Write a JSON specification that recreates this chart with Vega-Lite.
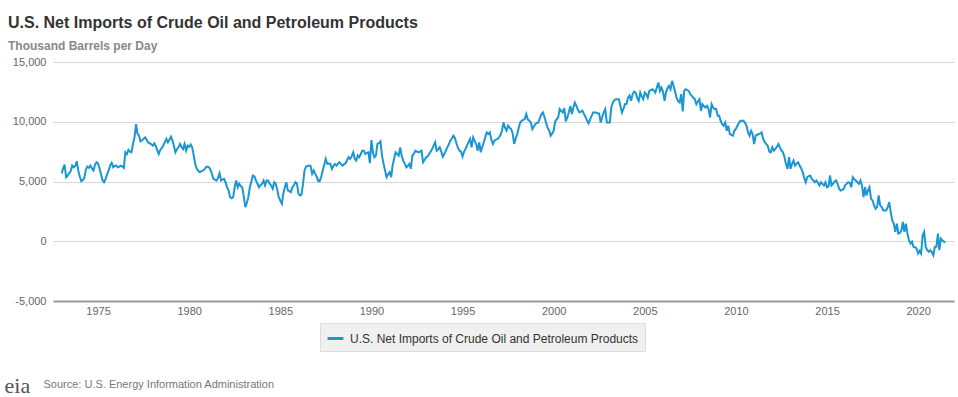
{
"$schema": "https://vega.github.io/schema/vega-lite/v6.json",
"autosize": {"type": "none"},
"padding": {"left": 53, "top": 62, "right": 4, "bottom": 96},
"width": 901,
"height": 239,
"background": "white",
"title": {"text": "U.S. Net Imports of Crude Oil and Petroleum Products", "subtitle": "Thousand Barrels per Day", "anchor": "start", "frame": "group", "dx": -45, "offset": 4, "font": "Liberation Sans", "fontSize": 16, "fontWeight": "bold", "color": "#333333", "subtitleFont": "Liberation Sans", "subtitleFontSize": 12, "subtitleFontWeight": "bold", "subtitleColor": "#888888", "subtitlePadding": 10},
"config": {"view": {"stroke": null}},
"datasets": {"oil": [
{"d":"1973-01","v":5690},{"d":"1973-02","v":6100},{"d":"1973-03","v":6420},{"d":"1973-04","v":5360},{"d":"1973-05","v":5500},{"d":"1973-06","v":5700},{"d":"1973-07","v":5850},{"d":"1973-08","v":6330},{"d":"1973-09","v":6190},{"d":"1973-10","v":6300},{"d":"1973-11","v":6700},{"d":"1973-12","v":5900},
{"d":"1974-01","v":5400},{"d":"1974-02","v":5030},{"d":"1974-03","v":5100},{"d":"1974-04","v":5300},{"d":"1974-05","v":6000},{"d":"1974-06","v":6250},{"d":"1974-07","v":6140},{"d":"1974-08","v":6330},{"d":"1974-09","v":6100},{"d":"1974-10","v":5920},{"d":"1974-11","v":6400},{"d":"1974-12","v":6610},
{"d":"1975-01","v":6500},{"d":"1975-02","v":6060},{"d":"1975-03","v":5600},{"d":"1975-04","v":5100},{"d":"1975-05","v":4940},{"d":"1975-06","v":5220},{"d":"1975-07","v":5600},{"d":"1975-08","v":5920},{"d":"1975-09","v":6350},{"d":"1975-10","v":6560},{"d":"1975-11","v":6190},{"d":"1975-12","v":6300},
{"d":"1976-01","v":6330},{"d":"1976-02","v":6190},{"d":"1976-03","v":6250},{"d":"1976-04","v":6330},{"d":"1976-05","v":6250},{"d":"1976-06","v":6140},{"d":"1976-07","v":7440},{"d":"1976-08","v":7300},{"d":"1976-09","v":7640},{"d":"1976-10","v":7500},{"d":"1976-11","v":7440},{"d":"1976-12","v":8140},
{"d":"1977-01","v":8700},{"d":"1977-02","v":9800},{"d":"1977-03","v":9000},{"d":"1977-04","v":8830},{"d":"1977-05","v":8360},{"d":"1977-06","v":8450},{"d":"1977-07","v":8560},{"d":"1977-08","v":8690},{"d":"1977-09","v":8500},{"d":"1977-10","v":8280},{"d":"1977-11","v":8200},{"d":"1977-12","v":8140},
{"d":"1978-01","v":8000},{"d":"1978-02","v":8190},{"d":"1978-03","v":8000},{"d":"1978-04","v":7600},{"d":"1978-05","v":7300},{"d":"1978-06","v":7650},{"d":"1978-07","v":7800},{"d":"1978-08","v":8000},{"d":"1978-09","v":8300},{"d":"1978-10","v":8560},{"d":"1978-11","v":8280},{"d":"1978-12","v":8500},
{"d":"1979-01","v":8750},{"d":"1979-02","v":8420},{"d":"1979-03","v":8000},{"d":"1979-04","v":7440},{"d":"1979-05","v":7700},{"d":"1979-06","v":7860},{"d":"1979-07","v":8140},{"d":"1979-08","v":7900},{"d":"1979-09","v":7720},{"d":"1979-10","v":8140},{"d":"1979-11","v":7580},{"d":"1979-12","v":8000},
{"d":"1980-01","v":7900},{"d":"1980-02","v":8100},{"d":"1980-03","v":7860},{"d":"1980-04","v":7200},{"d":"1980-05","v":6470},{"d":"1980-06","v":6060},{"d":"1980-07","v":5900},{"d":"1980-08","v":5780},{"d":"1980-09","v":5850},{"d":"1980-10","v":5920},{"d":"1980-11","v":6000},{"d":"1980-12","v":6190},
{"d":"1981-01","v":6250},{"d":"1981-02","v":6190},{"d":"1981-03","v":6000},{"d":"1981-04","v":5640},{"d":"1981-05","v":5220},{"d":"1981-06","v":5150},{"d":"1981-07","v":5080},{"d":"1981-08","v":5300},{"d":"1981-09","v":5690},{"d":"1981-10","v":5080},{"d":"1981-11","v":5150},{"d":"1981-12","v":5220},
{"d":"1982-01","v":4900},{"d":"1982-02","v":4500},{"d":"1982-03","v":4250},{"d":"1982-04","v":3690},{"d":"1982-05","v":3600},{"d":"1982-06","v":3690},{"d":"1982-07","v":4520},{"d":"1982-08","v":5080},{"d":"1982-09","v":4520},{"d":"1982-10","v":4810},{"d":"1982-11","v":4600},{"d":"1982-12","v":4520},
{"d":"1983-01","v":3690},{"d":"1983-02","v":2860},{"d":"1983-03","v":3200},{"d":"1983-04","v":3690},{"d":"1983-05","v":4520},{"d":"1983-06","v":5000},{"d":"1983-07","v":5500},{"d":"1983-08","v":5420},{"d":"1983-09","v":5100},{"d":"1983-10","v":4810},{"d":"1983-11","v":4520},{"d":"1983-12","v":4700},
{"d":"1984-01","v":4810},{"d":"1984-02","v":5080},{"d":"1984-03","v":4670},{"d":"1984-04","v":5080},{"d":"1984-05","v":5080},{"d":"1984-06","v":4810},{"d":"1984-07","v":4670},{"d":"1984-08","v":4390},{"d":"1984-09","v":4940},{"d":"1984-10","v":4810},{"d":"1984-11","v":4300},{"d":"1984-12","v":3690},
{"d":"1985-01","v":3400},{"d":"1985-02","v":3140},{"d":"1985-03","v":3970},{"d":"1985-04","v":4500},{"d":"1985-05","v":4940},{"d":"1985-06","v":4250},{"d":"1985-07","v":4200},{"d":"1985-08","v":4110},{"d":"1985-09","v":4520},{"d":"1985-10","v":4700},{"d":"1985-11","v":4940},{"d":"1985-12","v":4810},
{"d":"1986-01","v":3970},{"d":"1986-02","v":3830},{"d":"1986-03","v":3900},{"d":"1986-04","v":4800},{"d":"1986-05","v":5920},{"d":"1986-06","v":6250},{"d":"1986-07","v":6300},{"d":"1986-08","v":6330},{"d":"1986-09","v":6300},{"d":"1986-10","v":5640},{"d":"1986-11","v":5920},{"d":"1986-12","v":5640},
{"d":"1987-01","v":5400},{"d":"1987-02","v":5030},{"d":"1987-03","v":5030},{"d":"1987-04","v":5400},{"d":"1987-05","v":5920},{"d":"1987-06","v":6400},{"d":"1987-07","v":6890},{"d":"1987-08","v":6470},{"d":"1987-09","v":6500},{"d":"1987-10","v":6470},{"d":"1987-11","v":6060},{"d":"1987-12","v":6300},
{"d":"1988-01","v":6470},{"d":"1988-02","v":6330},{"d":"1988-03","v":6500},{"d":"1988-04","v":6610},{"d":"1988-05","v":6450},{"d":"1988-06","v":6330},{"d":"1988-07","v":6450},{"d":"1988-08","v":6530},{"d":"1988-09","v":6800},{"d":"1988-10","v":7030},{"d":"1988-11","v":6890},{"d":"1988-12","v":7100},
{"d":"1989-01","v":7440},{"d":"1989-02","v":6900},{"d":"1989-03","v":6750},{"d":"1989-04","v":7170},{"d":"1989-05","v":7030},{"d":"1989-06","v":7300},{"d":"1989-07","v":7580},{"d":"1989-08","v":7580},{"d":"1989-09","v":7300},{"d":"1989-10","v":7400},{"d":"1989-11","v":7440},{"d":"1989-12","v":6530},
{"d":"1990-01","v":8470},{"d":"1990-02","v":7400},{"d":"1990-03","v":7030},{"d":"1990-04","v":7170},{"d":"1990-05","v":8140},{"d":"1990-06","v":8200},{"d":"1990-07","v":8360},{"d":"1990-08","v":7170},{"d":"1990-09","v":6500},{"d":"1990-10","v":5920},{"d":"1990-11","v":5360},{"d":"1990-12","v":5600},
{"d":"1991-01","v":5780},{"d":"1991-02","v":5360},{"d":"1991-03","v":6330},{"d":"1991-04","v":6900},{"d":"1991-05","v":7440},{"d":"1991-06","v":7300},{"d":"1991-07","v":7170},{"d":"1991-08","v":7860},{"d":"1991-09","v":7100},{"d":"1991-10","v":6750},{"d":"1991-11","v":6470},{"d":"1991-12","v":6190},
{"d":"1992-01","v":6300},{"d":"1992-02","v":6470},{"d":"1992-03","v":6060},{"d":"1992-04","v":7170},{"d":"1992-05","v":7300},{"d":"1992-06","v":7580},{"d":"1992-07","v":7500},{"d":"1992-08","v":7440},{"d":"1992-09","v":7500},{"d":"1992-10","v":7580},{"d":"1992-11","v":6610},{"d":"1992-12","v":6800},
{"d":"1993-01","v":7030},{"d":"1993-02","v":7100},{"d":"1993-03","v":7300},{"d":"1993-04","v":7500},{"d":"1993-05","v":7720},{"d":"1993-06","v":8000},{"d":"1993-07","v":8280},{"d":"1993-08","v":7580},{"d":"1993-09","v":7700},{"d":"1993-10","v":7860},{"d":"1993-11","v":7500},{"d":"1993-12","v":7080},
{"d":"1994-01","v":7300},{"d":"1994-02","v":7580},{"d":"1994-03","v":7860},{"d":"1994-04","v":8100},{"d":"1994-05","v":8420},{"d":"1994-06","v":8600},{"d":"1994-07","v":8830},{"d":"1994-08","v":8640},{"d":"1994-09","v":8200},{"d":"1994-10","v":7810},{"d":"1994-11","v":7580},{"d":"1994-12","v":7500},
{"d":"1995-01","v":7080},{"d":"1995-02","v":7500},{"d":"1995-03","v":7720},{"d":"1995-04","v":8000},{"d":"1995-05","v":8300},{"d":"1995-06","v":8560},{"d":"1995-07","v":7860},{"d":"1995-08","v":8690},{"d":"1995-09","v":8400},{"d":"1995-10","v":8140},{"d":"1995-11","v":7580},{"d":"1995-12","v":8280},
{"d":"1996-01","v":7440},{"d":"1996-02","v":7900},{"d":"1996-03","v":8280},{"d":"1996-04","v":8700},{"d":"1996-05","v":9110},{"d":"1996-06","v":8970},{"d":"1996-07","v":9110},{"d":"1996-08","v":8500},{"d":"1996-09","v":8140},{"d":"1996-10","v":8420},{"d":"1996-11","v":8500},{"d":"1996-12","v":8560},
{"d":"1997-01","v":8690},{"d":"1997-02","v":8900},{"d":"1997-03","v":9250},{"d":"1997-04","v":9940},{"d":"1997-05","v":9500},{"d":"1997-06","v":9250},{"d":"1997-07","v":9670},{"d":"1997-08","v":9500},{"d":"1997-09","v":9390},{"d":"1997-10","v":9030},{"d":"1997-11","v":8140},{"d":"1997-12","v":8600},
{"d":"1998-01","v":8970},{"d":"1998-02","v":9500},{"d":"1998-03","v":9940},{"d":"1998-04","v":10080},{"d":"1998-05","v":10150},{"d":"1998-06","v":10220},{"d":"1998-07","v":10640},{"d":"1998-08","v":10200},{"d":"1998-09","v":10080},{"d":"1998-10","v":9940},{"d":"1998-11","v":9390},{"d":"1998-12","v":9600},
{"d":"1999-01","v":9810},{"d":"1999-02","v":9900},{"d":"1999-03","v":9940},{"d":"1999-04","v":10300},{"d":"1999-05","v":10640},{"d":"1999-06","v":10780},{"d":"1999-07","v":10400},{"d":"1999-08","v":9940},{"d":"1999-09","v":9500},{"d":"1999-10","v":9300},{"d":"1999-11","v":8830},{"d":"1999-12","v":9000},
{"d":"2000-01","v":9250},{"d":"2000-02","v":10030},{"d":"2000-03","v":10200},{"d":"2000-04","v":10360},{"d":"2000-05","v":11060},{"d":"2000-06","v":10900},{"d":"2000-07","v":10780},{"d":"2000-08","v":11140},{"d":"2000-09","v":10030},{"d":"2000-10","v":10360},{"d":"2000-11","v":10800},{"d":"2000-12","v":11330},
{"d":"2001-01","v":10640},{"d":"2001-02","v":11200},{"d":"2001-03","v":11610},{"d":"2001-04","v":11330},{"d":"2001-05","v":11000},{"d":"2001-06","v":10780},{"d":"2001-07","v":10850},{"d":"2001-08","v":10920},{"d":"2001-09","v":10640},{"d":"2001-10","v":10400},{"d":"2001-11","v":10100},{"d":"2001-12","v":9860},
{"d":"2002-01","v":10200},{"d":"2002-02","v":10500},{"d":"2002-03","v":10780},{"d":"2002-04","v":10780},{"d":"2002-05","v":10780},{"d":"2002-06","v":10700},{"d":"2002-07","v":10700},{"d":"2002-08","v":9940},{"d":"2002-09","v":10400},{"d":"2002-10","v":10780},{"d":"2002-11","v":11060},{"d":"2002-12","v":9940},
{"d":"2003-01","v":9940},{"d":"2003-02","v":9940},{"d":"2003-03","v":11190},{"d":"2003-04","v":11600},{"d":"2003-05","v":11810},{"d":"2003-06","v":11890},{"d":"2003-07","v":11890},{"d":"2003-08","v":11890},{"d":"2003-09","v":11300},{"d":"2003-10","v":10780},{"d":"2003-11","v":11100},{"d":"2003-12","v":11470},
{"d":"2004-01","v":11500},{"d":"2004-02","v":12030},{"d":"2004-03","v":12200},{"d":"2004-04","v":11750},{"d":"2004-05","v":12300},{"d":"2004-06","v":12530},{"d":"2004-07","v":12440},{"d":"2004-08","v":12000},{"d":"2004-09","v":11750},{"d":"2004-10","v":12440},{"d":"2004-11","v":12100},{"d":"2004-12","v":11890},
{"d":"2005-01","v":12440},{"d":"2005-02","v":12300},{"d":"2005-03","v":12030},{"d":"2005-04","v":12580},{"d":"2005-05","v":12650},{"d":"2005-06","v":12720},{"d":"2005-07","v":12600},{"d":"2005-08","v":12440},{"d":"2005-09","v":12900},{"d":"2005-10","v":13280},{"d":"2005-11","v":12580},{"d":"2005-12","v":12860},
{"d":"2006-01","v":12500},{"d":"2006-02","v":11750},{"d":"2006-03","v":12440},{"d":"2006-04","v":12800},{"d":"2006-05","v":13000},{"d":"2006-06","v":12720},{"d":"2006-07","v":13420},{"d":"2006-08","v":13000},{"d":"2006-09","v":12500},{"d":"2006-10","v":12000},{"d":"2006-11","v":11700},{"d":"2006-12","v":11610},
{"d":"2007-01","v":12310},{"d":"2007-02","v":10860},{"d":"2007-03","v":12580},{"d":"2007-04","v":12720},{"d":"2007-05","v":12650},{"d":"2007-06","v":12580},{"d":"2007-07","v":12310},{"d":"2007-08","v":12170},{"d":"2007-09","v":12000},{"d":"2007-10","v":11890},{"d":"2007-11","v":11470},{"d":"2007-12","v":11700},
{"d":"2008-01","v":11890},{"d":"2008-02","v":10920},{"d":"2008-03","v":11470},{"d":"2008-04","v":11300},{"d":"2008-05","v":11190},{"d":"2008-06","v":11330},{"d":"2008-07","v":11060},{"d":"2008-08","v":10360},{"d":"2008-09","v":11470},{"d":"2008-10","v":11200},{"d":"2008-11","v":11060},{"d":"2008-12","v":11060},
{"d":"2009-01","v":10500},{"d":"2009-02","v":10500},{"d":"2009-03","v":10080},{"d":"2009-04","v":9800},{"d":"2009-05","v":9670},{"d":"2009-06","v":9940},{"d":"2009-07","v":9250},{"d":"2009-08","v":9670},{"d":"2009-09","v":8970},{"d":"2009-10","v":8900},{"d":"2009-11","v":8830},{"d":"2009-12","v":9250},
{"d":"2010-01","v":9390},{"d":"2010-02","v":9670},{"d":"2010-03","v":9900},{"d":"2010-04","v":10080},{"d":"2010-05","v":10080},{"d":"2010-06","v":10080},{"d":"2010-07","v":9940},{"d":"2010-08","v":9670},{"d":"2010-09","v":9110},{"d":"2010-10","v":8830},{"d":"2010-11","v":9250},{"d":"2010-12","v":8970},
{"d":"2011-01","v":8140},{"d":"2011-02","v":8830},{"d":"2011-03","v":8900},{"d":"2011-04","v":8970},{"d":"2011-05","v":9000},{"d":"2011-06","v":9110},{"d":"2011-07","v":8560},{"d":"2011-08","v":8300},{"d":"2011-09","v":8140},{"d":"2011-10","v":8000},{"d":"2011-11","v":7500},{"d":"2011-12","v":7440},
{"d":"2012-01","v":7860},{"d":"2012-02","v":7580},{"d":"2012-03","v":7720},{"d":"2012-04","v":7900},{"d":"2012-05","v":8140},{"d":"2012-06","v":7860},{"d":"2012-07","v":7600},{"d":"2012-08","v":7440},{"d":"2012-09","v":7030},{"d":"2012-10","v":6470},{"d":"2012-11","v":6060},{"d":"2012-12","v":7030},
{"d":"2013-01","v":6060},{"d":"2013-02","v":6500},{"d":"2013-03","v":6750},{"d":"2013-04","v":6330},{"d":"2013-05","v":6500},{"d":"2013-06","v":6610},{"d":"2013-07","v":6330},{"d":"2013-08","v":6100},{"d":"2013-09","v":5780},{"d":"2013-10","v":5300},{"d":"2013-11","v":4940},{"d":"2013-12","v":5360},
{"d":"2014-01","v":5450},{"d":"2014-02","v":5500},{"d":"2014-03","v":5220},{"d":"2014-04","v":5100},{"d":"2014-05","v":4940},{"d":"2014-06","v":5080},{"d":"2014-07","v":4900},{"d":"2014-08","v":4670},{"d":"2014-09","v":4940},{"d":"2014-10","v":4800},{"d":"2014-11","v":4670},{"d":"2014-12","v":4940},
{"d":"2015-01","v":4520},{"d":"2015-02","v":4600},{"d":"2015-03","v":5500},{"d":"2015-04","v":4670},{"d":"2015-05","v":4810},{"d":"2015-06","v":5000},{"d":"2015-07","v":5080},{"d":"2015-08","v":4810},{"d":"2015-09","v":4390},{"d":"2015-10","v":4250},{"d":"2015-11","v":4300},{"d":"2015-12","v":4390},
{"d":"2016-01","v":4700},{"d":"2016-02","v":4810},{"d":"2016-03","v":4940},{"d":"2016-04","v":4900},{"d":"2016-05","v":4520},{"d":"2016-06","v":5360},{"d":"2016-07","v":5200},{"d":"2016-08","v":5080},{"d":"2016-09","v":4940},{"d":"2016-10","v":4810},{"d":"2016-11","v":5080},{"d":"2016-12","v":4670},
{"d":"2017-01","v":3690},{"d":"2017-02","v":4520},{"d":"2017-03","v":3830},{"d":"2017-04","v":4250},{"d":"2017-05","v":4520},{"d":"2017-06","v":3550},{"d":"2017-07","v":3420},{"d":"2017-08","v":3000},{"d":"2017-09","v":2720},{"d":"2017-10","v":2860},{"d":"2017-11","v":3830},{"d":"2017-12","v":3000},
{"d":"2018-01","v":2860},{"d":"2018-02","v":2580},{"d":"2018-03","v":2580},{"d":"2018-04","v":2580},{"d":"2018-05","v":2860},{"d":"2018-06","v":3280},{"d":"2018-07","v":2440},{"d":"2018-08","v":1750},{"d":"2018-09","v":1470},{"d":"2018-10","v":780},{"d":"2018-11","v":1470},{"d":"2018-12","v":640},
{"d":"2019-01","v":700},{"d":"2019-02","v":920},{"d":"2019-03","v":1610},{"d":"2019-04","v":780},{"d":"2019-05","v":1470},{"d":"2019-06","v":640},{"d":"2019-07","v":100},{"d":"2019-08","v":-190},{"d":"2019-09","v":-30},{"d":"2019-10","v":-470},{"d":"2019-11","v":-500},{"d":"2019-12","v":-610},
{"d":"2020-01","v":-1030},{"d":"2020-02","v":-800},{"d":"2020-03","v":-1030},{"d":"2020-04","v":500},{"d":"2020-05","v":780},{"d":"2020-06","v":-470},{"d":"2020-07","v":-750},{"d":"2020-08","v":-890},{"d":"2020-09","v":-750},{"d":"2020-10","v":-900},{"d":"2020-11","v":-1170},{"d":"2020-12","v":-470},
{"d":"2021-01","v":-470},{"d":"2021-02","v":640},{"d":"2021-03","v":-750},{"d":"2021-04","v":220},{"d":"2021-05","v":80},{"d":"2021-06","v":-30},{"d":"2021-07","v":-100}
]},
"data": {"name": "oil"},
"mark": {"type": "line", "strokeWidth": 2, "interpolate": "linear"},
"encoding": {
"x": {"field": "d", "type": "temporal",
 "scale": {"type": "utc", "domain": [{"year": 1972, "month": 7, "date": 12, "utc": true}, {"year": 2021, "month": 12, "date": 20, "utc": true}]},
 "axis": {"title": "Source: U.S. Energy Information Administration", "titleFont": "Liberation Sans", "titleFontSize": 11, "titleFontWeight": "normal", "titleColor": "#777777", "titleAlign": "left", "titleBaseline": "alphabetic", "titleAnchor": "start", "titleX": -10, "titleY": 86,
  "values": [{"year": 1975, "utc": true}, {"year": 1980, "utc": true}, {"year": 1985, "utc": true}, {"year": 1990, "utc": true}, {"year": 1995, "utc": true}, {"year": 2000, "utc": true}, {"year": 2005, "utc": true}, {"year": 2010, "utc": true}, {"year": 2015, "utc": true}, {"year": 2020, "utc": true}],
  "format": "%Y", "formatType": "utc", "grid": false, "ticks": false, "domainColor": "#999999", "domainWidth": 2, "labelColor": "#666666", "labelFontSize": 11, "labelFont": "Liberation Sans", "labelPadding": 4, "labelFlush": false, "labelOverlap": false}},
"y": {"field": "v", "type": "quantitative",
 "scale": {"domain": [-5000, 15000], "nice": false, "zero": false},
 "axis": {"title": "eia", "titleFont": "Liberation Serif", "titleFontSize": 22, "titleFontWeight": "normal", "titleColor": "#555555", "titleAngle": 0, "titleAlign": "left", "titleBaseline": "alphabetic", "titleX": -49, "titleY": 330,
  "values": [-5000, 0, 5000, 10000, 15000], "labelExpr": "replace(format(datum.value, ','), '\u2212', '-')", "grid": true, "gridColor": "#d8d8d8", "domain": false, "ticks": false, "labelColor": "#666666", "labelFontSize": 11, "labelFont": "Liberation Sans", "labelPadding": 7}},
"color": {"datum": "U.S. Net Imports of Crude Oil and Petroleum Products", "type": "nominal", "scale": {"range": ["#1a96d4"]},
 "legend": {"orient": "none", "legendX": 267, "legendY": 261, "title": null, "fillColor": "#f0f0f0", "strokeColor": "#dddddd", "padding": 6, "symbolType": "stroke", "symbolStrokeWidth": 3, "symbolSize": 250, "labelFont": "Liberation Sans", "labelFontSize": 12, "labelColor": "#333333", "labelOffset": 5, "labelLimit": 500}}
}
}
